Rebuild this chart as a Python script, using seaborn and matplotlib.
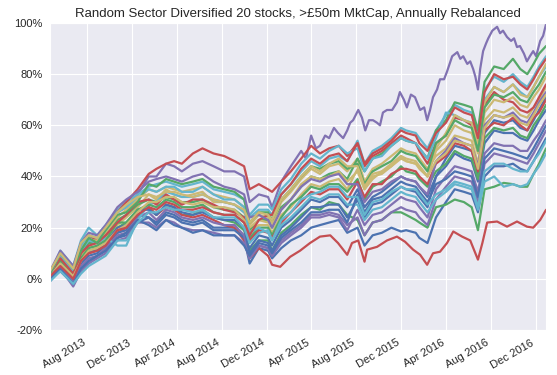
import pandas as pd
import matplotlib
matplotlib.use('Agg')
import matplotlib.pyplot as plt
import matplotlib.dates as mdates
from matplotlib.ticker import FuncFormatter
import seaborn as sns

# sample dates (x axis)
dates = ['2013-04-22', '2013-05-20', '2013-06-24', '2013-07-15', '2013-08-05', '2013-08-28',
         '2013-09-20', '2013-10-22', '2013-11-15', '2013-12-16', '2014-01-15', '2014-02-05',
         '2014-03-03', '2014-03-25', '2014-04-15', '2014-05-15', '2014-06-10', '2014-07-10',
         '2014-08-08', '2014-09-05', '2014-10-01', '2014-10-16', '2014-11-10', '2014-12-05',
         '2014-12-16', '2015-01-10', '2015-02-05', '2015-03-05', '2015-04-01', '2015-04-25',
         '2015-05-20', '2015-06-15', '2015-07-08', '2015-08-05', '2015-08-24', '2015-09-15',
         '2015-10-10', '2015-11-05', '2015-12-01', '2015-12-15', '2016-01-10', '2016-01-20',
         '2016-02-11', '2016-03-05', '2016-04-01', '2016-04-25', '2016-05-20', '2016-06-10',
         '2016-06-27', '2016-07-15', '2016-08-10', '2016-09-05', '2016-09-30', '2016-10-20',
         '2016-11-08', '2016-11-25', '2016-12-10', '2016-12-29']

# the best (purple) and worst (red) portfolios are read in more detail
dates_best = dates[:25] + [
    '2015-01-10', '2015-02-05', '2015-03-05', '2015-03-18', '2015-04-01', '2015-04-14',
    '2015-04-25', '2015-05-09', '2015-05-20', '2015-06-02', '2015-06-13', '2015-06-27',
    '2015-07-08', '2015-07-16', '2015-07-24', '2015-08-07', '2015-08-17', '2015-08-26',
    '2015-09-05', '2015-09-16', '2015-09-27', '2015-10-05', '2015-10-13', '2015-10-24',
    '2015-11-07', '2015-11-20', '2015-11-28', '2015-12-09', '2015-12-17', '2015-12-28',
    '2016-01-08', '2016-01-22', '2016-02-02', '2016-02-10', '2016-02-18', '2016-02-26',
    '2016-03-08', '2016-03-16', '2016-03-27', '2016-04-04', '2016-04-18', '2016-05-02',
    '2016-05-10', '2016-05-18', '2016-05-29', '2016-06-06', '2016-06-14', '2016-06-20',
    '2016-06-27', '2016-07-03', '2016-07-11', '2016-07-19', '2016-07-25', '2016-08-05',
    '2016-08-18', '2016-08-26', '2016-09-03', '2016-09-14', '2016-09-25', '2016-10-03',
    '2016-10-11', '2016-10-19', '2016-10-30', '2016-11-07', '2016-11-15', '2016-11-24',
    '2016-12-02', '2016-12-13', '2016-12-21', '2016-12-29']
dates_worst = dates[:25] + [
    '2015-01-07', '2015-02-03', '2015-03-02', '2015-03-29', '2015-04-25', '2015-05-23',
    '2015-06-13', '2015-07-08', '2015-07-21', '2015-08-07', '2015-08-24', '2015-08-31',
    '2015-09-27', '2015-10-24', '2015-11-20', '2015-12-12', '2016-01-03', '2016-01-22',
    '2016-02-10', '2016-02-26', '2016-03-16', '2016-04-04', '2016-04-21', '2016-05-15',
    '2016-06-06', '2016-06-27', '2016-07-09', '2016-07-22', '2016-08-18', '2016-09-14',
    '2016-10-11', '2016-11-07', '2016-11-24', '2016-12-13', '2016-12-29']

# cumulative return (%) of each random portfolio
port01 = [0, 3, -2, 4, 6, 9, 11, 16, 17, 22, 24, 22, 26, 25, 23, 22, 23, 20, 20, 20, 16,
          6, 12, 11, 8, 12, 15, 17, 20, 21, 22, 23, 18, 20, 13, 17, 18, 20, 18.5, 19, 18, 16, 14,
          24, 30, 35, 34, 33, 26, 40, 44, 44, 45, 43, 42, 46, 50, 55]
port02 = [1, 6, 1, 8, 11, 12, 14, 20, 22, 27, 28, 25, 29, 28, 25, 25, 27, 24, 23, 22, 19,
          11, 15, 15, 11, 18, 21, 25, 28, 27, 30, 29, 25, 23, 17, 22, 23, 26, 26, 25, 23, 22, 20,
          28, 29, 31, 30, 28, 19, 35, 36, 37.5, 37, 36, 36, 41, 45, 51]
port03 = [0, 5, 0, 8, 10, 11, 14, 18, 20, 25, 28, 25, 28, 27, 25, 24, 25, 23, 21, 20, 15,
          8, 12, 9, 5.5,
          4.7, 8.6, 11, 14, 16.5, 17, 14, 9.4, 14, 15, 6.7, 11.4, 12.5, 15, 16.5, 14.5, 11.4, 9.4,
          5.5, 10, 10.6, 14, 18.5, 16.5, 15, 7.5, 14, 22, 22.4, 20.4, 22.4, 20.4, 20, 23, 27]
port04 = [1, 8, 2, 12, 15, 14, 18, 26, 28, 33, 40, 40, 45, 44, 42, 45, 46, 44, 42, 42, 40,
          30, 33, 32, 28,
          38, 44, 50, 47, 56, 51, 52, 56, 55, 59, 57, 55, 58, 61, 62, 66, 63, 58, 62, 62, 61, 60,
          65, 66, 66, 69, 73, 70, 67, 72, 71, 66, 67, 62, 66, 71, 74, 78, 78, 81, 87, 88.6, 86,
          87, 84, 85, 82, 79, 74, 82, 89, 92, 94, 97, 98.5, 96, 97, 94.5, 93, 94, 90.6, 91, 88,
          85, 87, 89, 87, 93, 95, 99.6]
port05 = [1, 8, 1, 9, 13, 12, 16, 21, 24, 28, 33, 31, 35, 33, 32, 33, 34, 30, 30, 29, 26,
          21, 25, 24, 22, 30, 34, 39, 43, 41, 44, 45, 42, 47, 38, 43, 45, 48, 51, 50, 49, 47, 43,
          48, 51, 56, 55, 54, 45, 62, 66, 65, 67, 64, 63, 67, 70, 75]
port06 = [2, 11, 5, 15, 20, 17, 21, 27, 30, 33, 36, 37, 38, 37, 36, 37, 38, 35, 34, 33, 31,
          24, 27, 27, 25, 33, 37, 42, 46, 44, 47, 48, 46, 54, 45, 50, 52, 55, 59, 58, 57, 55, 51,
          58, 64, 68, 66, 65, 56, 74, 79, 77, 80, 77, 75, 79, 83, 87]
port07 = [0, 6, -1, 6, 9, 10, 13, 18, 19, 25, 24, 21, 25, 24, 22, 21, 22, 19, 19, 19, 16,
          12, 17, 16, 13, 20, 23, 27, 31, 30, 32, 32, 28, 35, 28, 32, 34, 37, 40, 39, 38, 36, 32,
          40, 44, 49, 47, 46, 38, 53, 58, 57, 57, 55, 54, 58, 62, 66]
port08 = [1, 8, 2, 10, 14, 14, 17, 23, 25, 29, 31, 30, 32, 31, 30, 30, 31, 28, 27, 27, 24,
          19, 23, 23, 20, 28, 31, 36, 40, 39, 41, 42, 39, 47, 42, 47, 49, 52, 55, 54, 53, 51, 47,
          58, 62, 69, 68, 67, 58, 77, 83, 82, 86, 82, 80, 84, 88, 91]
port09 = [2, 10, 4, 14, 17, 15, 20, 26, 30, 35, 41, 43, 45, 46, 45, 49, 51, 49, 48, 46, 44,
          35, 37, 35, 34, 38, 42, 47, 52, 49, 51, 52, 48, 53, 44, 48, 50, 53, 56, 55, 53, 50, 45,
          53, 56, 63, 62, 60, 52, 68, 73, 70, 69, 66, 65, 67, 71, 76]
port10 = [0, 5, -1, 5, 8, 9, 12, 17, 18, 24, 26, 23, 27, 26, 24, 23, 24, 22, 21, 21, 17,
          8, 13, 12, 9, 15, 18, 21, 25, 25, 26, 25, 21, 24, 17, 22, 23, 26, 28, 27, 26, 24, 21,
          31, 36, 40, 39, 38, 30, 45, 49, 48, 47, 46, 45, 49, 53, 58]
port11 = [2, 9, 3, 12, 15, 15, 18, 24, 27, 31, 35, 34, 36, 35, 34, 35, 36, 33, 32, 31, 28,
          18, 21, 21, 18, 25, 28, 33, 37, 36, 38, 39, 35, 43, 35, 40, 41, 44, 47, 46, 45, 43, 40,
          50, 54, 60, 58, 57, 49, 65, 70, 69, 71, 68, 67, 71, 74, 79]
port12 = [2, 9, 3, 11, 15, 14, 16, 13, 13, 23, 29, 30, 34, 33, 32, 32, 33, 31, 30, 29, 26,
          25, 29, 29, 27, 35, 39, 45, 49, 47, 50, 52, 49, 51, 42, 47, 48, 52, 55, 54, 53, 51, 47,
          55, 65, 64, 62, 61, 52, 70, 75, 73, 76, 73, 71, 75, 79, 83]
port13 = [1, 7, 0, 8, 11, 11, 14, 20, 21, 27, 27, 25, 29, 28, 26, 25, 26, 24, 23, 23, 20,
          10, 15, 14, 11, 17, 20, 24, 28, 28, 29, 29, 24, 31, 24, 29, 30, 33, 36, 35, 34, 32, 28,
          40, 47, 52, 51, 50, 41, 57, 62, 61, 62, 59, 58, 62, 66, 71]
port14 = [0, 7, 2, 8, 12, 13, 15, 22, 22, 27, 29, 28, 31, 30, 28, 28, 29, 26, 25, 25, 22,
          16, 20, 20, 17, 24, 29, 32, 36, 35, 37, 37, 34, 39, 31, 36, 38, 40, 44, 42, 41, 39, 36,
          42, 45, 50, 48, 47, 39, 55, 59, 58, 59, 56, 55, 60, 63, 68]
port15 = [2, 8, 2, 10, 13, 14, 17, 22, 25, 30, 31, 29, 33, 31, 29, 31, 31, 29, 27, 26, 24,
          15, 19, 18, 16, 22, 26, 30, 34, 33, 35, 35, 31, 38, 32, 37, 37, 41, 43, 43, 42, 40, 37,
          45, 48, 53, 52, 50, 42, 58, 61, 60, 63, 60, 58, 63, 65, 70]
port16 = [-1, 4, -3, 3, 6, 8, 10, 15, 16, 22, 22, 20, 23, 22, 20, 19, 19, 18, 17, 17, 14,
          8, 13, 12, 9, 14, 17, 20, 24, 24, 25, 24, 19, 27, 21, 25, 26, 29, 32, 31, 30, 28, 24,
          35, 40, 44, 43, 42, 34, 49, 53, 52, 52, 50, 50, 54, 57, 62]
port17 = [1, 6, 1, 7, 11, 12, 14, 19, 21, 26, 30, 30, 32, 32, 30, 29, 30, 28, 28, 27, 23,
          20, 23, 22, 21, 27, 31, 37, 40, 39, 40, 42, 38, 42, 35, 39, 42, 44, 48, 46, 45, 44, 40,
          51, 57, 64, 62, 61, 53, 69, 75, 73, 76, 72, 71, 75, 79, 84]
port18 = [2, 10, 4, 13, 17, 16, 19, 26, 28, 32, 35, 34, 36, 36, 34, 34, 36, 33, 31, 31, 28,
          18, 20, 18, 15, 21, 24, 28, 32, 31, 33, 33, 29, 29, 23, 27, 28, 31, 34, 33, 32, 30, 26,
          31, 34, 37, 36, 35, 27, 38, 40, 36, 37, 36, 37, 41, 44, 49]
port19 = [0, 4, -2, 4, 7, 9, 11, 16, 18, 23, 21, 19, 23, 21, 20, 18, 19, 17, 17, 17, 13,
          9, 14, 13, 10, 16, 19, 22, 26, 26, 27, 27, 22, 33, 26, 31, 32, 35, 38, 37, 36, 34, 30,
          37, 39, 42, 41, 40, 32, 47, 51, 50, 49, 48, 47, 51, 55, 60]
port20 = [2, 10, 4, 11, 16, 14, 19, 25, 26, 30, 37, 36, 39, 38, 37, 38, 39, 36, 35, 34, 31,
          22, 26, 26, 23, 31, 35, 40, 44, 43, 45, 46, 43, 45, 37, 42, 44, 46, 50, 49, 48, 46, 42,
          53, 56, 62, 60, 59, 50, 67, 72, 71, 73, 70, 69, 73, 76, 81]
port21 = [1, 5, 0, 7, 10, 11, 13, 19, 20, 25, 28, 27, 30, 29, 27, 27, 28, 26, 25, 25, 22,
          17, 23, 25, 25, 33, 37, 43, 47, 45, 48, 49, 46, 53, 45, 49, 51, 54, 58, 57, 56, 53, 50,
          57, 61, 67, 65, 64, 55, 73, 80, 78, 79, 76, 74, 78, 82, 86]
port22 = [3, 11, 5, 14, 18, 17, 21, 28, 31, 34, 38, 39, 40, 39, 38, 40, 41, 38, 36, 35, 33,
          24, 25, 23, 20, 27, 31, 36, 39, 38, 40, 41, 37, 37, 30, 34, 35, 38, 40, 39, 38, 36, 33,
          46, 50, 55, 53, 52, 44, 60, 64, 63, 65, 62, 61, 65, 69, 73]
port23 = [3, 10, 4, 14, 17, 16, 20, 26, 29, 32, 33, 32, 34, 34, 33, 32, 33, 31, 30, 29, 27,
          22, 26, 25, 23, 31, 35, 40, 44, 42, 45, 47, 44, 44, 36, 41, 42, 45, 48, 47, 46, 44, 40,
          46, 49, 54, 53, 52, 43, 59, 64, 63, 64, 61, 60, 64, 68, 72]
port24 = [-1, 3, -2, 2, 5, 7, 9, 15, 15, 22, 26, 26, 28, 27, 27, 26, 27, 24, 24, 24, 20,
          14, 18, 19, 15, 23, 26, 31, 33, 34, 36, 36, 32, 32, 25, 30, 31, 34, 36, 35, 35, 33, 29,
          33, 35, 38, 37, 36, 28, 42, 45, 45, 43, 42, 42, 46, 49, 54]

portfolios = [port01, port02, port03, port04, port05, port06, port07, port08,
              port09, port10, port11, port12, port13, port14, port15, port16,
              port17, port18, port19, port20, port21, port22, port23, port24]
port_dates = [dates, dates, dates_worst, dates_best] + [dates] * 20

# old seaborn "deep" palette (6 colours, cycled)
deep6 = ['#4C72B0', '#55A868', '#C44E52', '#8172B2', '#CCB974', '#64B5CD']

frames = []
for i, vals in enumerate(portfolios):
    frames.append(pd.DataFrame({'date': pd.to_datetime(port_dates[i]), 'ret': vals,
                                'port': 'p%02d' % i}))
df = pd.concat(frames, ignore_index=True)
names = ['p%02d' % i for i in range(len(portfolios))]
pal = {n: deep6[i % 6] for i, n in enumerate(names)}

sns.set_style('darkgrid')
plt.rcParams['font.family'] = ['Liberation Sans', 'DejaVu Sans']

fig = plt.figure(figsize=(5.57, 3.75), dpi=100)
ax = fig.add_axes([0.0898, 0.12, 0.8906, 0.8187])

sns.lineplot(data=df, x='date', y='ret', hue='port', hue_order=names, palette=pal,
             legend=False, linewidth=1.6, ax=ax)

ax.set_xlim(pd.Timestamp(dates[0]), pd.Timestamp(dates[-1]))
ax.set_ylim(-20, 100)
ax.set_yticks(range(-20, 101, 20))
ax.yaxis.set_major_formatter(FuncFormatter(lambda v, p: '%d%%' % v))
ax.xaxis.set_major_locator(mdates.MonthLocator(bymonth=[4, 8, 12]))
ax.xaxis.set_major_formatter(mdates.DateFormatter('%b %Y'))
plt.setp(ax.get_xticklabels(), rotation=30, ha='right')
ax.tick_params(labelsize=8, pad=2)
ax.set_xlabel('')
ax.set_ylabel('')
ax.set_title('Random Sector Diversified 20 stocks, >£50m MktCap, Annually Rebalanced',
             fontsize=9.5, pad=4)

fig.savefig('out.png', dpi=100)
